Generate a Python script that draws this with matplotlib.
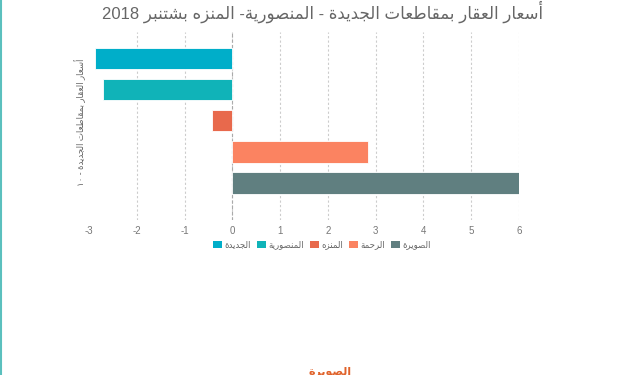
import matplotlib
matplotlib.use("Agg")
import matplotlib.pyplot as plt
from matplotlib.patches import Patch

# ---------------- data ----------------
categories = ['الجديدة', 'المنصورية', 'المنزه', 'الرحمة', 'الصويرة']
values = [-2.87, -2.70, -0.42, 2.84, 6.0]
colors = ['#00aec9', '#10b3b8', '#e8694c', '#fb8361', '#607f80']
x_ticks = [-3, -2, -1, 0, 1, 2, 3, 4, 5, 6]
title_text = 'أسعار العقار بمقاطعات الجديدة - المنصورية- المنزه بشتنبر 2018'
ylabel_text = 'أسعار العقار بمقاطعات الجديدة - ١٠'

# ---------------- minimal Arabic shaping ----------------
FORMS = {
    '\u0627': (0xFE8D, 0xFE8E, None, None),
    '\u0623': (0xFE83, 0xFE84, None, None),
    '\u0625': (0xFE87, 0xFE88, None, None),
    '\u0622': (0xFE81, 0xFE82, None, None),
    '\u0628': (0xFE8F, 0xFE90, 0xFE91, 0xFE92),
    '\u0629': (0xFE93, 0xFE94, None, None),
    '\u062A': (0xFE95, 0xFE96, 0xFE97, 0xFE98),
    '\u062B': (0xFE99, 0xFE9A, 0xFE9B, 0xFE9C),
    '\u062C': (0xFE9D, 0xFE9E, 0xFE9F, 0xFEA0),
    '\u062D': (0xFEA1, 0xFEA2, 0xFEA3, 0xFEA4),
    '\u062E': (0xFEA5, 0xFEA6, 0xFEA7, 0xFEA8),
    '\u062F': (0xFEA9, 0xFEAA, None, None),
    '\u0630': (0xFEAB, 0xFEAC, None, None),
    '\u0631': (0xFEAD, 0xFEAE, None, None),
    '\u0632': (0xFEAF, 0xFEB0, None, None),
    '\u0633': (0xFEB1, 0xFEB2, 0xFEB3, 0xFEB4),
    '\u0634': (0xFEB5, 0xFEB6, 0xFEB7, 0xFEB8),
    '\u0635': (0xFEB9, 0xFEBA, 0xFEBB, 0xFEBC),
    '\u0636': (0xFEBD, 0xFEBE, 0xFEBF, 0xFEC0),
    '\u0637': (0xFEC1, 0xFEC2, 0xFEC3, 0xFEC4),
    '\u0638': (0xFEC5, 0xFEC6, 0xFEC7, 0xFEC8),
    '\u0639': (0xFEC9, 0xFECA, 0xFECB, 0xFECC),
    '\u063A': (0xFECD, 0xFECE, 0xFECF, 0xFED0),
    '\u0641': (0xFED1, 0xFED2, 0xFED3, 0xFED4),
    '\u0642': (0xFED5, 0xFED6, 0xFED7, 0xFED8),
    '\u0643': (0xFED9, 0xFEDA, 0xFEDB, 0xFEDC),
    '\u0644': (0xFEDD, 0xFEDE, 0xFEDF, 0xFEE0),
    '\u0645': (0xFEE1, 0xFEE2, 0xFEE3, 0xFEE4),
    '\u0646': (0xFEE5, 0xFEE6, 0xFEE7, 0xFEE8),
    '\u0647': (0xFEE9, 0xFEEA, 0xFEEB, 0xFEEC),
    '\u0648': (0xFEED, 0xFEEE, None, None),
    '\u064A': (0xFEF1, 0xFEF2, 0xFEF3, 0xFEF4),
    '\u0649': (0xFEEF, 0xFEF0, None, None),
}
LAMALEF = {'\u0627': (0xFEFB, 0xFEFC), '\u0623': (0xFEF7, 0xFEF8),
           '\u0625': (0xFEF9, 0xFEFA), '\u0622': (0xFEF5, 0xFEF6)}


def dual(c):
    return c in FORMS and FORMS[c][2] is not None


def shape(text):
    units = []
    i = 0
    while i < len(text):
        c = text[i]
        if c == '\u0644' and i + 1 < len(text) and text[i + 1] in LAMALEF:
            units.append(('LA', text[i + 1]))
            i += 2
        else:
            units.append(('C', c))
            i += 1
    out = []
    for k, (kind, c) in enumerate(units):
        prev = units[k - 1] if k > 0 else None
        nxt = units[k + 1] if k + 1 < len(units) else None
        prev_conn = prev is not None and prev[0] == 'C' and dual(prev[1])
        if kind == 'LA':
            f = LAMALEF[c]
            out.append(chr(f[1] if prev_conn else f[0]))
            continue
        if c not in FORMS:
            out.append(c)
            continue
        nxt_conn = dual(c) and nxt is not None and (nxt[0] == 'LA' or nxt[1] in FORMS)
        iso, fin, ini, med = FORMS[c]
        if prev_conn and nxt_conn:
            out.append(chr(med))
        elif prev_conn:
            out.append(chr(fin))
        elif nxt_conn:
            out.append(chr(ini))
        else:
            out.append(chr(iso))
    return ''.join(out)


def ar(text):
    s = shape(text)
    runs = []
    for c in s:
        d = c.isdigit()
        if runs and runs[-1][0] == d and d:
            runs[-1][1].append(c)
        else:
            runs.append((d, [c]))
    return ''.join(''.join(chars) for d, chars in reversed(runs))


FAM = ['Liberation Sans', 'DejaVu Sans']
plt.rcParams['font.family'] = FAM

# ---------------- figure ----------------
fig = plt.figure(figsize=(6.4, 3.75), dpi=100)
ax = fig.add_axes([89 / 640, 1 - 220 / 375, 430 / 640, 188 / 375])

y = list(range(len(categories)))
ax.barh(y, values, height=0.7, color=colors, edgecolor='white', linewidth=0.6, zorder=3)
ax.set_ylim(5.2, -0.85)
ax.set_xlim(-3, 6)
ax.set_xticks(x_ticks)
ax.set_xticklabels([str(t) for t in x_ticks])
ax.set_yticks([])
ax.tick_params(axis='x', length=0, pad=4, labelsize=7, labelcolor='#777777')
for s in ax.spines.values():
    s.set_visible(False)
ax.set_axisbelow(True)
ax.grid(axis='x', color='#cccccc', linestyle=(0, (2, 2)), linewidth=0.8)
gl = ax.xaxis.get_gridlines()
gl[0].set_visible(False)
ax.axvline(0, color='#aaaaaa', linestyle=(0, (3, 2)), linewidth=0.8, zorder=2)

# title
fig.text(323 / 640, 1 - 12 / 375, ar(title_text), ha='center', va='center',
         fontsize=12, color='#666666', family=FAM)
# y label
fig.text(80 / 640, 1 - 122 / 375, ar(ylabel_text), ha='center', va='center',
         rotation=90, fontsize=6.2, color='#666666', family=FAM)

# legend
handles = [Patch(facecolor=c, edgecolor='none') for c in colors]
fig.legend(handles, [ar(c) for c in categories], loc='center',
           bbox_to_anchor=(322 / 640, 1 - 245 / 375), ncol=5, frameon=False,
           fontsize=6.2, handlelength=1.0, handleheight=1.0, handletextpad=0.3,
           columnspacing=0.7, labelcolor='#666666')

# left teal border line
fig.add_artist(plt.Line2D([0.001, 0.001], [0, 1], transform=fig.transFigure,
                          color='#5bc0be', linewidth=1.5))
# cropped orange heading at bottom (only its top shows in the reference)
fig.text(330 / 640, 1 - 367 / 375, ar('الصويرة'), ha='center', va='top',
         fontsize=8, color='#e0622a', fontweight='bold', family=FAM)

fig.savefig('out.png', dpi=100)
